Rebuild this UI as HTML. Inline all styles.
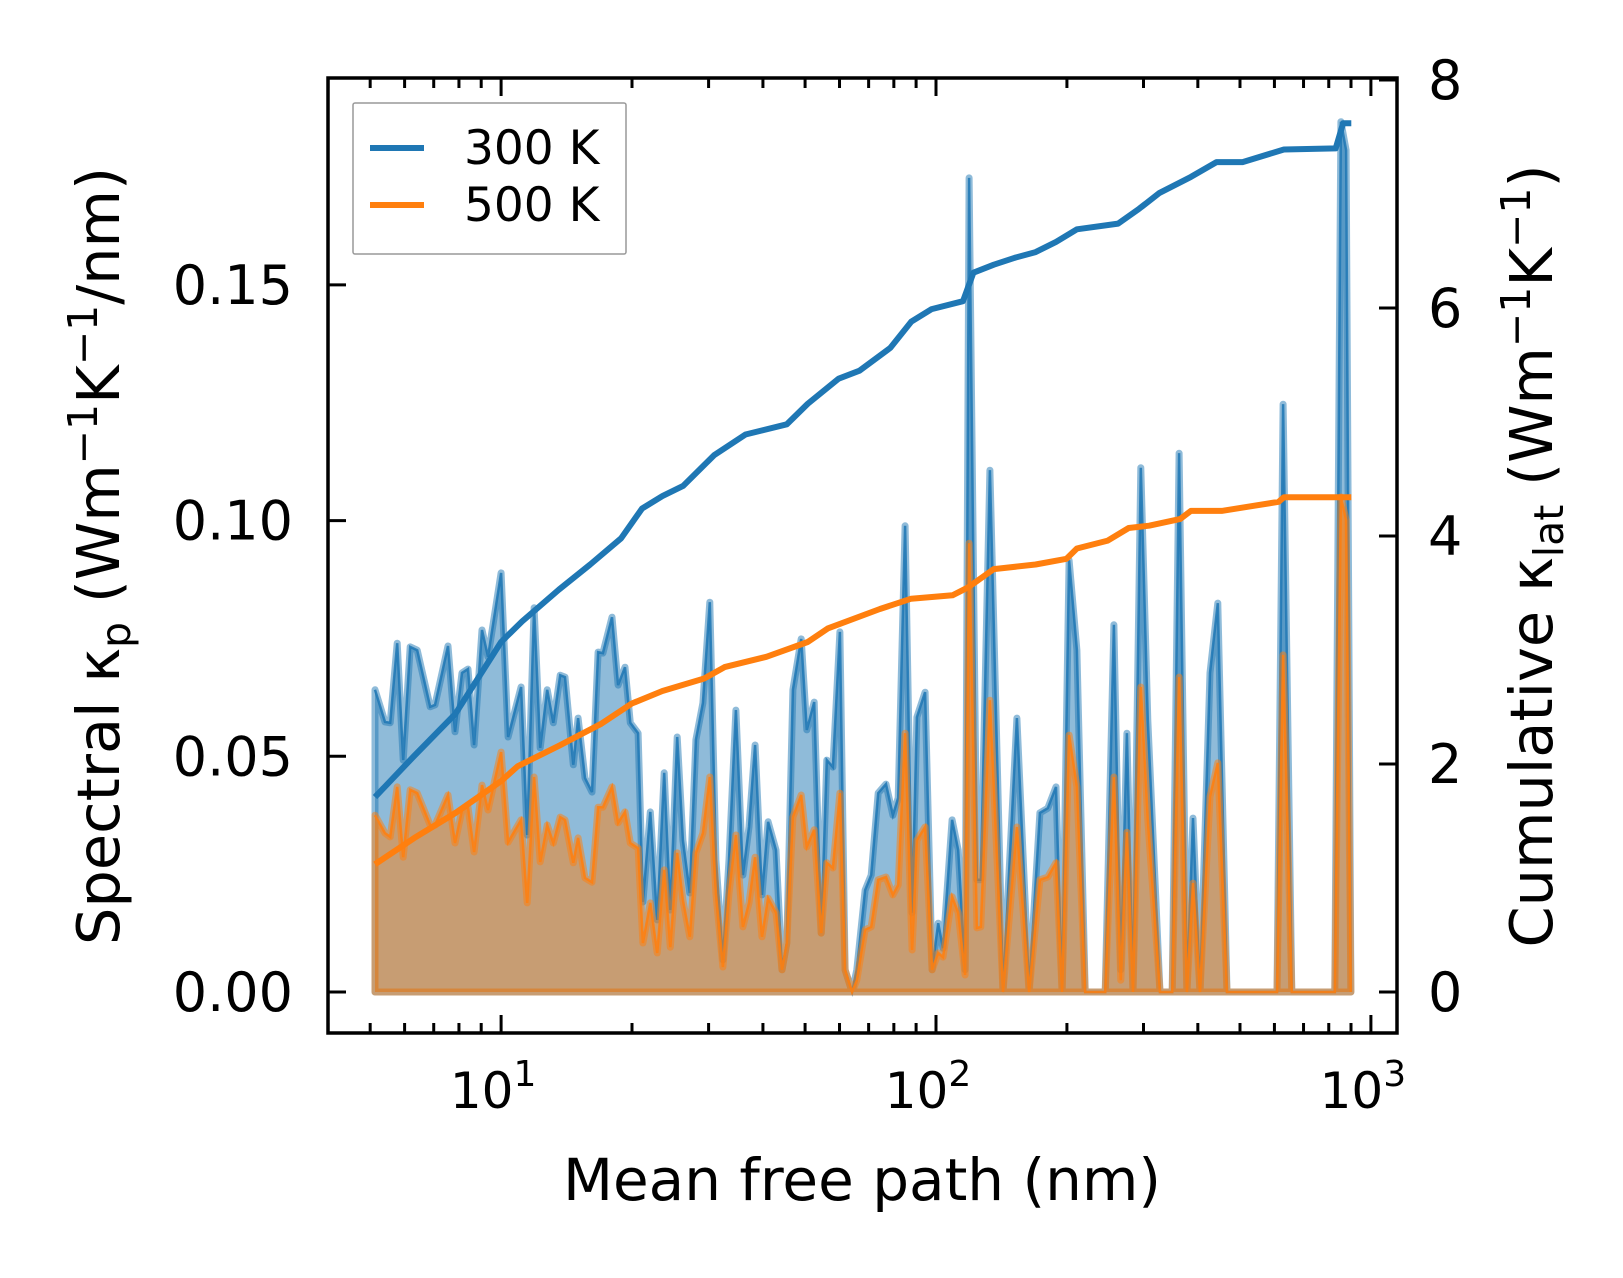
<!DOCTYPE html>
<html><head><meta charset="utf-8"><style>
html,body{margin:0;padding:0;background:#fff;}
svg text{font-family:"DejaVu Sans","Liberation Sans",sans-serif;fill:#000;}
</style></head><body>
<svg id="chart" width="1623" height="1273" viewBox="0 0 1623 1273" xmlns="http://www.w3.org/2000/svg">
<defs><clipPath id="pc"><rect x="328" y="78" width="1069" height="955"/></clipPath></defs>
<rect x="0" y="0" width="1623" height="1273" fill="#fff"/>
<g id="plot" clip-path="url(#pc)"></g>
<g id="axes"></g>
</svg>
<script>
// spectral data: log10(mean free path / nm)
const logMfp=[0.710,0.733,0.745,0.761,0.775,0.791,0.807,0.837,0.848,0.878,0.894,0.910,0.924,0.938,0.956,0.970,1.000,1.016,1.046,1.060,1.076,1.090,1.106,1.120,1.136,1.147,1.166,1.177,1.193,1.209,1.223,1.234,1.255,1.269,1.285,1.297,1.315,1.326,1.343,1.359,1.375,1.389,1.405,1.418,1.434,1.448,1.464,1.480,1.494,1.510,1.524,1.540,1.556,1.570,1.584,1.600,1.614,1.632,1.646,1.657,1.671,1.690,1.703,1.720,1.736,1.749,1.763,1.779,1.791,1.807,1.818,1.837,1.851,1.867,1.885,1.901,1.913,1.929,1.945,1.956,1.975,1.991,2.005,2.016,2.037,2.051,2.067,2.076,2.094,2.103,2.124,2.154,2.186,2.214,2.239,2.257,2.276,2.290,2.306,2.324,2.343,2.389,2.409,2.425,2.439,2.453,2.471,2.487,2.515,2.543,2.559,2.577,2.591,2.607,2.630,2.648,2.669,2.784,2.798,2.818,2.917,2.931,2.943,2.954];
const spec300=[0.0641,0.0573,0.0571,0.0740,0.0492,0.0732,0.0725,0.0605,0.0609,0.0734,0.0552,0.0677,0.0685,0.0524,0.0768,0.0711,0.0889,0.0541,0.0647,0.0333,0.0815,0.0518,0.0641,0.0571,0.0672,0.0668,0.0482,0.0581,0.0454,0.0424,0.0721,0.0719,0.0795,0.0651,0.0689,0.0571,0.0549,0.0191,0.0382,0.0153,0.0465,0.0174,0.0541,0.0322,0.0210,0.0535,0.0613,0.0827,0.0280,0.0068,0.0280,0.0598,0.0248,0.0350,0.0524,0.0206,0.0361,0.0301,0.0047,0.0104,0.0641,0.0749,0.0556,0.0615,0.0125,0.0492,0.0477,0.0764,0.0047,0,0.0047,0.0216,0.0248,0.0422,0.0441,0.0375,0.0412,0.0989,0.0168,0.0583,0.0636,0.0047,0.0146,0.0093,0.0365,0.0301,0.0047,0.1727,0.0238,0.0238,0.1107,0,0.0581,0.0004,0.0380,0.0390,0.0435,0,0.0916,0.0725,0,0,0.0779,0.0047,0.0549,0,0.1112,0.0577,0,0,0.1143,0,0.0369,0,0.0677,0.0825,0,0,0.1247,0,0,0.1846,0.1786,0];
const spec500=[0.0375,0.0337,0.0329,0.0435,0.0286,0.0429,0.0422,0.0354,0.0354,0.0418,0.0316,0.0386,0.0392,0.0297,0.0439,0.0386,0.0509,0.0318,0.0365,0.0189,0.0456,0.0276,0.0354,0.0316,0.0371,0.0365,0.0274,0.0327,0.0242,0.0233,0.0392,0.0392,0.0435,0.0359,0.0382,0.0316,0.0305,0.0104,0.0189,0.0083,0.0259,0.0095,0.0295,0.0195,0.0117,0.0295,0.0337,0.0456,0.0210,0.0053,0.0210,0.0333,0.0138,0.0189,0.0286,0.0117,0.0199,0.0168,0.0047,0.0104,0.0371,0.0418,0.0308,0.0344,0.0125,0.0274,0.0263,0.0422,0.0047,0,0.0025,0.0132,0.0138,0.0238,0.0244,0.0206,0.0227,0.0549,0.0089,0.0322,0.0350,0.0047,0.0083,0.0074,0.0202,0.0168,0.0036,0.0952,0.0136,0.0138,0.0619,0,0.0350,0,0.0238,0.0244,0.0274,0,0.0545,0.0435,0,0,0.0456,0.0025,0.0339,0,0.0647,0.0365,0,0,0.0668,0,0.0231,0,0.0414,0.0486,0,0,0.0715,0,0,0.1050,0.1001,0];
// cumulative data
const cumLog300=[0.710,0.800,0.895,1.000,1.048,1.133,1.205,1.276,1.324,1.371,1.419,1.490,1.562,1.657,1.705,1.776,1.824,1.895,1.943,1.990,2.062,2.086,2.133,2.181,2.229,2.276,2.324,2.419,2.467,2.514,2.586,2.645,2.705,2.800,2.919,2.936,2.955];
const cum300=[1.71,2.07,2.44,3.07,3.25,3.53,3.75,3.98,4.24,4.35,4.44,4.71,4.89,4.98,5.16,5.38,5.45,5.65,5.88,5.99,6.06,6.31,6.38,6.44,6.49,6.58,6.69,6.74,6.87,7.01,7.15,7.28,7.28,7.39,7.40,7.62,7.62];
const cumLog500=[0.710,0.800,0.895,1.000,1.038,1.133,1.229,1.300,1.371,1.467,1.514,1.610,1.705,1.752,1.871,1.943,2.038,2.074,2.133,2.229,2.300,2.324,2.395,2.443,2.490,2.562,2.586,2.657,2.788,2.800,2.955];
const cum500=[1.12,1.35,1.57,1.85,1.98,2.16,2.35,2.53,2.64,2.75,2.85,2.94,3.07,3.19,3.36,3.45,3.48,3.55,3.71,3.75,3.80,3.89,3.96,4.07,4.09,4.15,4.22,4.22,4.30,4.34,4.34];
const leftTicks=[0,0.05,0.10,0.15];
const leftTickLabels=["0.00","0.05","0.10","0.15"];
const rightTicks=[0,2,4,6,8];
const xDecades=[1,2,3];

const L=328,R=1397,T=78,B=1033;
const X0=0.602,X1=3.060;
const sx=v=>L+(v-X0)/(X1-X0)*(R-L);
const yl=v=>992-v*4714;
const yr=v=>992-v*114;
const NS="http://www.w3.org/2000/svg";
const plot=document.getElementById('plot'), axes=document.getElementById('axes');
function mk(tag,attrs,parent){const e=document.createElementNS(NS,tag);for(const k in attrs)e.setAttribute(k,attrs[k]);parent.appendChild(e);return e;}

function drawSpec(vals,color,name){
  let pts=logMfp.map((l,i)=>sx(l).toFixed(1)+','+yl(vals[i]).toFixed(1));
  const d='M'+sx(logMfp[0]).toFixed(1)+','+yl(0)+' L'+pts.join(' L')+' L'+sx(logMfp[logMfp.length-1]).toFixed(1)+','+yl(0)+' Z';
  const f=mk('path',{d:d,fill:color,'fill-opacity':0.5,stroke:color,'stroke-opacity':0.5,'stroke-width':7,'stroke-linejoin':'round'},plot);
  
  
  const ln=mk('polyline',{points:pts.join(' '),fill:'none',stroke:color,'stroke-width':2.5,'stroke-opacity':0.85},plot);
  
  
}
drawSpec(spec300,'#1f77b4','spectral-300k');
drawSpec(spec500,'#ff7f0e','spectral-500k');
function drawCum(xs,vals,color,name){
  const pts=xs.map((l,i)=>sx(l).toFixed(1)+','+yr(vals[i]).toFixed(1)).join(' ');
  const ln=mk('polyline',{points:pts,fill:'none',stroke:color,'stroke-width':6,'stroke-linejoin':'round'},plot);
  
  
}
drawCum(cumLog300,cum300,'#1f77b4','cumulative-300k');
drawCum(cumLog500,cum500,'#ff7f0e','cumulative-500k');

const fr=mk('rect',{x:L,y:T,width:R-L,height:B-T,fill:'none',stroke:'#000','stroke-width':3.5},axes);


for(let d=0;d<=3;d++){
  for(let m=1;m<10;m++){
    const l=d+Math.log10(m);
    if(l<X0||l>X1)continue;
    const x=sx(l), len=m===1?18:10;
    mk('line',{x1:x,y1:B,x2:x,y2:B-len,stroke:'#000','stroke-width':3},axes);
    mk('line',{x1:x,y1:T,x2:x,y2:T+len,stroke:'#000','stroke-width':3},axes);
  }
}
xDecades.forEach(d=>{
  const t=mk('text',{x:sx(d)-8,y:1108,'font-size':50,'text-anchor':'middle'},axes);
  
  
  t.textContent='10';
  const s=mk('tspan',{dy:-22,'font-size':36},t);s.textContent=String(d);
});
leftTicks.forEach((v,i)=>{
  const y=yl(v);
  mk('line',{x1:L,y1:y,x2:L+18,y2:y,stroke:'#000','stroke-width':3},axes);
  const t=mk('text',{x:293,y:y+19,'font-size':54,'text-anchor':'end'},axes);
  
  
  t.textContent=leftTickLabels[i];
});
rightTicks.forEach(v=>{
  const y=yr(v);
  mk('line',{x1:R,y1:y,x2:R-18,y2:y,stroke:'#000','stroke-width':3},axes);
  const t=mk('text',{x:1428,y:y+19,'font-size':54},axes);
  
  
  t.textContent=String(v);
});
</script>
<svg style="position:absolute;left:0;top:0" width="1623" height="1273" xmlns="http://www.w3.org/2000/svg">
<text x="862" y="1200" font-size="58" text-anchor="middle" style="font-family:'DejaVu Sans',sans-serif">Mean free path (nm)</text>
<text transform="translate(119,556) rotate(-90)" font-size="59" text-anchor="middle" style="font-family:'DejaVu Sans',sans-serif">Spectral κ<tspan font-size="41" dy="11">p</tspan><tspan dy="-11"> (Wm</tspan><tspan font-size="41" dy="-22">−1</tspan><tspan dy="22">K</tspan><tspan font-size="41" dy="-22">−1</tspan><tspan dy="22">/nm)</tspan></text>
<text transform="translate(1552,556) rotate(-90)" font-size="59" text-anchor="middle" style="font-family:'DejaVu Sans',sans-serif">Cumulative κ<tspan font-size="41" dy="11">lat</tspan><tspan dy="-11"> (Wm</tspan><tspan font-size="41" dy="-22">−1</tspan><tspan dy="22">K</tspan><tspan font-size="41" dy="-22">−1</tspan><tspan dy="22">)</tspan></text>
<g>
<rect x="353" y="103" width="273" height="151" fill="#fff" fill-opacity="0.8" stroke="#999" stroke-width="1.5" rx="2"/>
<line x1="370" y1="148" x2="424" y2="148" stroke="#1f77b4" stroke-width="6"/>
<text x="464" y="164" font-size="47" style="font-family:'DejaVu Sans',sans-serif">300 K</text>
<line x1="370" y1="205" x2="424" y2="205" stroke="#ff7f0e" stroke-width="6"/>
<text x="464" y="221" font-size="47" style="font-family:'DejaVu Sans',sans-serif">500 K</text>
</g>
</svg>
</body></html>
